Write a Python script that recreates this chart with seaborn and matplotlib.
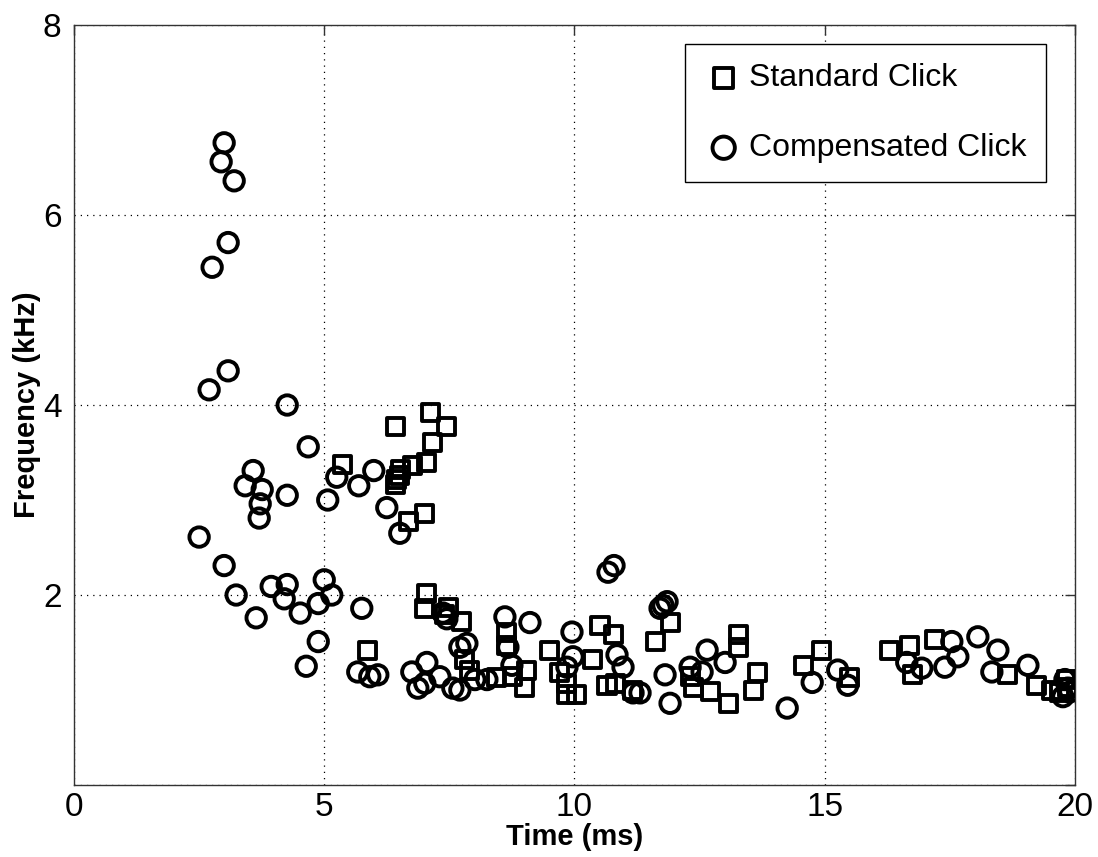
import matplotlib
matplotlib.use("Agg")
import matplotlib.pyplot as plt
import seaborn as sns
import pandas as pd

# standard click points (time ms, frequency kHz)
std_time = [5.37, 6.43, 7.13, 7.45, 7.17, 7.05, 6.77, 6.53, 6.45, 6.43, 6.51,
            7.01, 6.69, 7.05, 7.01, 7.49, 7.75, 7.41, 5.87, 7.91, 7.81, 8.45,
            8.77, 9.05, 9.01, 8.65, 8.65, 9.51, 9.71, 9.85, 10.05, 9.85, 10.37,
            10.51, 10.77, 10.65, 10.81, 11.91, 11.61, 12.37, 12.71, 13.07,
            13.27, 13.27, 13.65, 13.57, 14.57, 14.94, 15.50, 16.30, 16.70,
            16.76, 17.20, 18.66, 19.24, 19.54, 19.70, 19.86, 19.84, 12.31, 11.15]
std_freq = [3.37, 3.77, 3.92, 3.77, 3.61, 3.40, 3.36, 3.32, 3.22, 3.16, 3.26,
            2.86, 2.77, 2.02, 1.86, 1.87, 1.72, 1.79, 1.42, 1.21, 1.32, 1.13,
            1.14, 1.21, 1.03, 1.61, 1.47, 1.42, 1.18, 1.07, 0.95, 0.95, 1.32,
            1.68, 1.58, 1.05, 1.07, 1.71, 1.51, 1.03, 0.98, 0.86,
            1.58, 1.45, 1.18, 1.00, 1.26, 1.42, 1.13, 1.42, 1.47,
            1.16, 1.53, 1.16, 1.05, 1.00, 0.97, 1.03, 1.11, 1.14, 1.00]

# compensated click points
comp_time = [3.00, 2.94, 3.20, 3.08, 2.76, 3.08, 2.70, 4.26, 4.68, 3.58, 3.42,
             3.76, 3.72, 3.70, 4.26, 5.25, 5.69, 5.99, 5.07, 6.25, 6.51, 2.50,
             3.00, 3.24, 3.64, 3.94, 4.26, 4.20, 4.52, 4.88, 5.00, 5.15, 5.75,
             4.88, 4.64, 5.67, 5.91, 6.07, 7.37, 7.45, 6.75, 7.05, 6.87, 7.01,
             7.57, 7.31, 7.71, 7.85, 8.01, 8.25, 7.71, 8.61, 9.11, 8.67, 8.75,
             9.95, 9.97, 9.85, 10.67, 10.79, 10.85, 10.97, 11.17, 11.31, 11.77,
             11.85, 11.71, 11.81, 11.91, 12.65, 13.01, 12.31, 12.55, 14.25,
             14.75, 15.26, 15.46, 16.64, 16.94, 17.54, 17.66, 17.40, 18.06,
             18.46, 18.34, 19.06, 19.80, 19.86, 19.76, 19.90]
comp_freq = [6.76, 6.56, 6.36, 5.71, 5.45, 4.36, 4.16, 4.00, 3.56, 3.31, 3.15,
             3.11, 2.96, 2.81, 3.05, 3.24, 3.15, 3.31, 3.00, 2.92, 2.65, 2.61,
             2.31, 2.00, 1.76, 2.09, 2.11, 1.96, 1.81, 1.91, 2.16, 2.00, 1.86,
             1.51, 1.25, 1.19, 1.14, 1.16, 1.81, 1.75, 1.19, 1.29, 1.02, 1.07,
             1.02, 1.14, 1.45, 1.49, 1.11, 1.11, 1.00, 1.77, 1.71, 1.45, 1.26,
             1.61, 1.35, 1.24, 2.24, 2.31, 1.37, 1.24, 0.97, 0.97, 1.89,
             1.93, 1.86, 1.16, 0.86, 1.42, 1.29, 1.24, 1.19, 0.81,
             1.08, 1.21, 1.05, 1.29, 1.23, 1.51, 1.35, 1.24, 1.56,
             1.42, 1.19, 1.26, 1.11, 1.02, 0.93, 0.98]

std_df = pd.DataFrame({"time": std_time, "freq": std_freq})
comp_df = pd.DataFrame({"time": comp_time, "freq": comp_freq})

sns.set_style("white")
plt.rcParams["font.family"] = ["Liberation Sans", "DejaVu Sans"]
plt.rcParams["text.color"] = "black"
plt.rcParams["axes.labelcolor"] = "black"

fig = plt.figure(figsize=(10.98, 8.57), dpi=100)
ax = fig.add_axes([0.0674, 0.084, 0.9116, 0.8868])

sns.scatterplot(data=std_df, x="time", y="freq", marker="s", s=150,
                facecolors="none", edgecolor="black", linewidth=2.8,
                label="Standard Click", ax=ax, zorder=3)
sns.scatterplot(data=comp_df, x="time", y="freq", marker="o", s=195,
                facecolors="none", edgecolor="black", linewidth=2.8,
                label="Compensated Click", ax=ax, zorder=3)

ax.set_xlim(0, 20)
ax.set_ylim(0, 8)
ax.set_xticks([0, 5, 10, 15, 20])
ax.set_yticks([0, 2, 4, 6, 8])
ax.set_yticklabels(["", "2", "4", "6", "8"])
ax.grid(True, color="black", linestyle=(0, (1, 4)), linewidth=0.9)
ax.set_axisbelow(True)
for sp in ax.spines.values():
    sp.set_visible(True)
    sp.set_color("#333333")
    sp.set_linewidth(1.0)
ax.tick_params(direction="in", length=7, width=1, top=True, right=True,
               labelsize=24, colors="#333333", labelcolor="black")
ax.tick_params(axis="x", pad=5)
ax.tick_params(axis="y", pad=9)

ax.set_xlabel("Time (ms)", fontsize=21, fontweight="bold", labelpad=0,
              color="black")
ax.set_ylabel("Frequency (kHz)", fontsize=21, fontweight="bold", labelpad=1,
              color="black")

leg = ax.legend(loc="upper right", fontsize=23, frameon=True, fancybox=False,
                edgecolor="black", framealpha=1, labelspacing=1.25,
                handletextpad=0.2, handlelength=1.2, borderpad=0.6,
                borderaxespad=0, bbox_to_anchor=(0.971, 0.975),
                markerscale=1.15)
leg.get_frame().set_linewidth(1.0)
for t in leg.get_texts():
    t.set_color("black")

fig.savefig("out.png", dpi=100)
